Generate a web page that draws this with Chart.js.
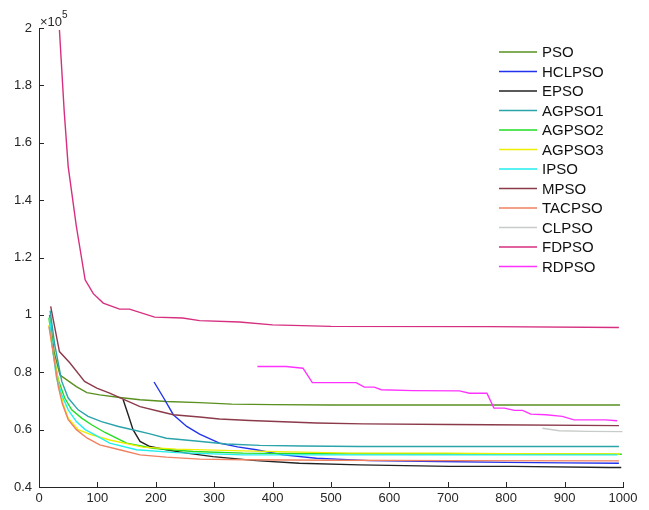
<!DOCTYPE html>
<html>
<head>
<meta charset="utf-8">
<script src="https://cdn.jsdelivr.net/npm/chart.js@4.4.1/dist/chart.umd.min.js"></script>
<style>
  html, body { margin: 0; padding: 0; background: #fff; }
  #wrap { width: 649px; height: 510px; position: relative; }
</style>
</head>
<body>
<div id="wrap"><canvas id="conv"></canvas></div>
<script>
// fitness values are in units of 1e5
const names = ['PSO', 'HCLPSO', 'EPSO', 'AGPSO1', 'AGPSO2', 'AGPSO3', 'IPSO', 'MPSO', 'TACPSO', 'CLPSO', 'FDPSO', 'RDPSO'];
const colors = ['#5a9020', '#2233ee', '#222222', '#2aa3ab', '#22dd22', '#eeee00', '#22eeee', '#8b3a4a', '#f08060', '#c8ccc8', '#d62f7f', '#ff33ff'];

const xTicks = [0, 100, 200, 300, 400, 500, 600, 700, 800, 900, 1000];
const yTicks = [0.4, 0.6, 0.8, 1, 1.2, 1.4, 1.6, 1.8, 2];

const psoIter = [18, 26, 36, 50, 64, 82, 104, 138, 173, 218, 275, 330, 400, 500, 600, 700, 800, 900, 995];
const psoVal = [1.00, 0.87, 0.79, 0.77, 0.75, 0.729, 0.721, 0.712, 0.704, 0.698, 0.694, 0.689, 0.687, 0.686, 0.686, 0.686, 0.686, 0.686, 0.686];

const hclIter = [197, 213, 230, 253, 275, 309, 340, 372, 418, 475, 510, 566, 685, 800, 900, 993];
const hclVal = [0.766, 0.712, 0.652, 0.611, 0.584, 0.553, 0.540, 0.530, 0.512, 0.500, 0.497, 0.492, 0.489, 0.486, 0.484, 0.483];

const epsoIter = [144, 153, 161, 173, 190, 218, 253, 298, 372, 446, 549, 703, 810, 976, 997];
const epsoVal = [0.705, 0.650, 0.600, 0.559, 0.541, 0.530, 0.518, 0.506, 0.492, 0.483, 0.477, 0.472, 0.472, 0.468, 0.468];

const ag1Iter = [19, 27, 39, 50, 67, 84, 107, 136, 164, 190, 218, 264, 321, 378, 450, 549, 700, 850, 993];
const ag1Val = [1.015, 0.895, 0.768, 0.710, 0.669, 0.646, 0.628, 0.611, 0.598, 0.585, 0.570, 0.561, 0.550, 0.545, 0.543, 0.541, 0.541, 0.541, 0.541];

const ag2Iter = [17, 25, 33, 44, 56, 73, 90, 113, 150, 195, 264, 349, 450, 600, 800, 998];
const ag2Val = [0.99, 0.86, 0.774, 0.710, 0.669, 0.640, 0.617, 0.590, 0.553, 0.535, 0.524, 0.518, 0.517, 0.516, 0.515, 0.514];

const ag3Iter = [17, 24, 33, 42, 50, 67, 90, 121, 178, 235, 349, 532, 700, 800, 995];
const ag3Val = [0.965, 0.872, 0.768, 0.686, 0.640, 0.600, 0.582, 0.564, 0.539, 0.532, 0.526, 0.518, 0.518, 0.516, 0.515];

const ipsoIter = [18, 24, 30, 39, 50, 64, 79, 96, 121, 167, 235, 349, 500, 700, 990];
const ipsoVal = [0.99, 0.87, 0.78, 0.721, 0.669, 0.628, 0.600, 0.582, 0.553, 0.530, 0.520, 0.512, 0.512, 0.512, 0.512];

const mpsoIter = [20, 35, 53, 78, 99, 121, 144, 173, 207, 230, 275, 309, 361, 475, 555, 703, 771, 993];
const mpsoVal = [1.03, 0.872, 0.832, 0.768, 0.745, 0.727, 0.706, 0.680, 0.663, 0.652, 0.644, 0.637, 0.632, 0.623, 0.620, 0.618, 0.617, 0.614];

const tacIter = [17, 25, 33, 40, 50, 64, 82, 104, 138, 173, 218, 275, 349, 500, 700, 993];
const tacVal = [0.96, 0.86, 0.75, 0.69, 0.635, 0.600, 0.571, 0.547, 0.530, 0.512, 0.504, 0.497, 0.495, 0.493, 0.492, 0.491];

const clIter = [862, 891, 940, 999];
const clVal = [0.605, 0.596, 0.594, 0.593];

const fdIter = [35, 43, 50, 64, 79, 93, 110, 138, 155, 198, 246, 275, 343, 400, 500, 771, 993];
const fdVal = [1.993, 1.714, 1.517, 1.308, 1.122, 1.074, 1.041, 1.020, 1.020, 0.992, 0.989, 0.980, 0.975, 0.965, 0.960, 0.959, 0.956];

const rdIter = [374, 423, 452, 468, 543, 557, 574, 586, 640, 720, 737, 767, 779, 797, 814, 828, 842, 868, 896, 916, 970, 990];
const rdVal = [0.820, 0.820, 0.814, 0.764, 0.764, 0.748, 0.748, 0.739, 0.736, 0.735, 0.727, 0.727, 0.675, 0.675, 0.667, 0.667, 0.654, 0.652, 0.646, 0.634, 0.634, 0.631];

const iters = [psoIter, hclIter, epsoIter, ag1Iter, ag2Iter, ag3Iter, ipsoIter, mpsoIter, tacIter, clIter, fdIter, rdIter];
const vals = [psoVal, hclVal, epsoVal, ag1Val, ag2Val, ag3Val, ipsoVal, mpsoVal, tacVal, clVal, fdVal, rdVal];

const axisColor = '#262626';
const fontFamily = 'Arial, "Liberation Sans", Helvetica, sans-serif';

function pairs(xs, ys) {
  return xs.map((x, i) => ({ x: x, y: ys[i] }));
}

const datasets = names.map((name, i) => ({
  label: name,
  data: pairs(iters[i], vals[i]),
  borderColor: colors[i],
  borderWidth: 1.4,
  pointRadius: 0,
  fill: false,
  tension: 0,
  order: names.length - i   // later series end up on top
}));

// inward tick marks, the x10^5 exponent and the legend box
const decorPlugin = {
  id: 'decor',
  afterDraw(chart) {
    const c = chart.ctx;
    const xs = chart.scales.x, ys = chart.scales.y;
    const area = chart.chartArea;
    c.save();
    c.strokeStyle = axisColor;
    c.lineWidth = 1;
    c.beginPath();
    xTicks.forEach(t => {
      const px = Math.round(xs.getPixelForValue(t)) + 0.5;
      c.moveTo(px, area.bottom);
      c.lineTo(px, area.bottom - 5);
    });
    yTicks.forEach(t => {
      const py = Math.round(ys.getPixelForValue(t)) + 0.5;
      c.moveTo(area.left, py);
      c.lineTo(area.left + 5, py);
    });
    c.stroke();

    c.fillStyle = axisColor;
    c.textBaseline = 'alphabetic';
    c.textAlign = 'left';
    c.font = '13px ' + fontFamily;
    c.fillText('\u00d710', area.left + 1, area.top - 2);
    const w = c.measureText('\u00d710').width;
    c.font = '10px ' + fontFamily;
    c.fillText('5', area.left + 1 + w, area.top - 10);

    // legend
    const lx = 499, ly = 52, gap = 19.5;
    c.font = '15px ' + fontFamily;
    c.textBaseline = 'middle';
    names.forEach((name, i) => {
      const y = ly + i * gap;
      c.strokeStyle = colors[i];
      c.lineWidth = 1.5;
      c.beginPath();
      c.moveTo(lx, y);
      c.lineTo(lx + 38, y);
      c.stroke();
      c.fillStyle = '#111';
      c.fillText(name, lx + 43, y + 1);
    });
    c.restore();
  }
};

new Chart(document.getElementById('conv'), {
  type: 'line',
  data: { datasets: datasets },
  options: {
    responsive: true,
    maintainAspectRatio: false,
    animation: false,
    layout: { padding: { top: 28, right: 26, bottom: 0, left: 0 } },
    plugins: {
      legend: { display: false },
      tooltip: { enabled: false }
    },
    scales: {
      x: {
        type: 'linear',
        min: 0,
        max: 1000,
        afterFit: s => { s.height = 23; },
        afterBuildTicks: s => { s.ticks = xTicks.map(v => ({ value: v })); },
        grid: { display: false, drawTicks: false },
        border: { display: true, color: axisColor, width: 1 },
        ticks: {
          color: axisColor,
          padding: 4,
          maxRotation: 0,
          font: { size: 13, family: fontFamily },
          callback: v => String(v)
        }
      },
      y: {
        type: 'linear',
        min: 0.4,
        max: 2,
        afterFit: s => { s.width = 39; },
        afterBuildTicks: s => { s.ticks = yTicks.map(v => ({ value: v })); },
        grid: { display: false, drawTicks: false },
        border: { display: true, color: axisColor, width: 1 },
        ticks: {
          color: axisColor,
          padding: 7,
          font: { size: 13, family: fontFamily },
          callback: v => String(Number(v.toFixed(1)))
        }
      }
    }
  },
  plugins: [decorPlugin]
});
</script>
</body>
</html>
